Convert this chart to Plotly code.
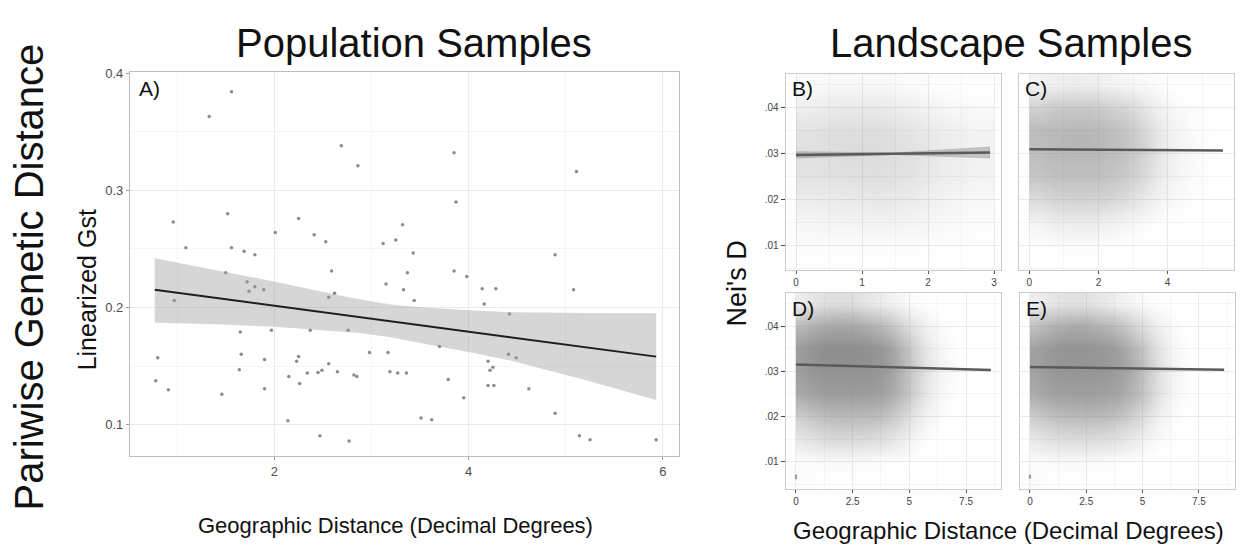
import plotly.graph_objects as go

# ---------------- Panel A data (Population Samples) ----------------
a_x = [1.56, 1.33, 2.69, 2.86, 0.96, 1.52, 2.25, 2.01, 2.41, 2.53, 3.12, 1.09, 1.56, 1.69, 1.80,
       3.85, 5.11, 3.87, 3.32, 3.25, 3.43, 4.89,
       1.50, 1.72, 1.80, 1.74, 1.89, 0.97, 2.59, 2.62, 2.56, 3.15, 1.65, 1.97, 2.37, 2.76,
       0.80, 1.66, 1.90, 2.25, 2.23, 2.56, 2.98, 3.17, 0.78, 0.91, 1.64, 1.46, 1.90, 2.15,
       2.26, 2.34, 2.45, 2.49, 2.65, 2.82, 2.85, 3.19, 2.14, 2.47, 2.77,
       3.37, 3.85, 3.98, 3.33, 3.44, 4.14, 4.28, 4.16, 5.08, 4.42, 3.70, 4.41, 4.49, 4.20,
       4.25, 4.22, 3.27, 3.36, 3.79, 4.20, 4.26, 4.62, 3.95, 4.89, 3.51, 3.62, 5.14, 5.25, 5.93]
a_y = [0.384, 0.363, 0.338, 0.321, 0.273, 0.280, 0.276, 0.264, 0.262, 0.256, 0.2545, 0.251, 0.251, 0.248, 0.245,
       0.332, 0.316, 0.290, 0.2705, 0.2576, 0.2464, 0.245,
       0.2295, 0.222, 0.2177, 0.2137, 0.215, 0.206, 0.231, 0.212, 0.2087, 0.220, 0.179, 0.1806, 0.1806, 0.1806,
       0.157, 0.160, 0.1556, 0.158, 0.154, 0.152, 0.1615, 0.1615, 0.1374, 0.1298, 0.1467, 0.1258, 0.1306, 0.141,
       0.135, 0.144, 0.1444, 0.1463, 0.145, 0.1424, 0.141, 0.145, 0.1033, 0.0904, 0.086,
       0.2295, 0.231, 0.2264, 0.215, 0.206, 0.216, 0.216, 0.203, 0.215, 0.1944, 0.1666, 0.160, 0.157, 0.154,
       0.149, 0.1463, 0.144, 0.144, 0.1385, 0.1334, 0.1334, 0.1306, 0.123, 0.1096, 0.1056, 0.1042, 0.0904, 0.0871, 0.0871]

a_line_x = [0.77, 5.93]
a_line_y = [0.215, 0.158]
a_band_x = [0.77, 1.4, 2.01, 2.6, 2.9, 3.2, 3.54, 4.0, 4.47, 5.2, 5.93]
a_band_hi = [0.242, 0.232, 0.222, 0.2115, 0.2065, 0.2025, 0.2000, 0.1975, 0.1958, 0.1952, 0.195]
a_band_lo = [0.187, 0.1857, 0.1834, 0.1800, 0.1780, 0.1745, 0.169, 0.162, 0.1539, 0.138, 0.121]

# ---------------- Landscape panels: point density (0-10) ----------------
dens_y_edges = [0.0025, 0.0075, 0.0125, 0.0175, 0.0225, 0.0275, 0.0325, 0.0375, 0.0425, 0.0475]

b_dx_edges = [0, 0.5, 1, 1.5, 2, 2.5, 3]
b_dz = [
    [0.1, 0.1, 0, 0, 0, 0],
    [0.3, 0.3, 0.3, 0.3, 0.2, 0.1],
    [0.8, 1.0, 1.1, 1.0, 0.6, 0.3],
    [1.6, 1.8, 2.0, 1.7, 1.0, 0.6],
    [2.3, 2.6, 2.7, 2.3, 1.5, 1.0],
    [2.6, 2.9, 2.9, 2.5, 1.7, 1.1],
    [2.4, 2.8, 2.8, 2.2, 1.4, 0.9],
    [1.4, 1.8, 1.8, 1.3, 0.7, 0.4],
    [0.4, 0.6, 0.6, 0.3, 0.1, 0],
]

c_dx_edges = [0, 0.5, 1, 1.5, 2, 2.5, 3, 3.5, 4, 4.5, 5, 5.5]
c_dz = [
    [0, 0, 0, 0, 0, 0, 0, 0, 0, 0, 0],
    [0.2, 0.3, 0.3, 0.3, 0.2, 0.1, 0.1, 0, 0, 0, 0],
    [1.0, 1.5, 1.6, 1.6, 1.3, 0.9, 0.5, 0.2, 0.1, 0, 0],
    [3.0, 3.5, 3.7, 3.7, 3.4, 2.9, 1.9, 1.0, 0.5, 0.2, 0],
    [4.8, 5.2, 5.3, 5.3, 5.0, 4.5, 3.3, 1.8, 0.9, 0.4, 0.1],
    [5.4, 5.8, 5.9, 5.9, 5.6, 5.1, 3.8, 2.1, 1.0, 0.5, 0.15],
    [5.6, 5.9, 6.0, 6.0, 5.6, 5.0, 3.6, 1.9, 0.9, 0.4, 0.1],
    [3.8, 4.3, 4.5, 4.5, 4.0, 3.4, 2.3, 1.2, 0.5, 0.2, 0],
    [1.0, 1.3, 1.5, 1.4, 1.1, 0.8, 0.5, 0.2, 0, 0, 0],
]

de_dx_edges = [0, 0.5, 1, 1.5, 2, 2.5, 3, 3.5, 4, 4.5, 5, 5.5, 6, 6.5, 7, 7.5, 8, 8.5]
d_dz = [
    [0.3, 0.1, 0, 0, 0, 0, 0, 0, 0, 0, 0, 0, 0, 0, 0, 0, 0],
    [0.3, 0.4, 0.5, 0.5, 0.5, 0.5, 0.4, 0.3, 0.2, 0.1, 0, 0, 0, 0, 0, 0, 0],
    [2.0, 2.5, 3.0, 3.2, 3.2, 3.2, 3.0, 2.7, 2.2, 1.5, 0.8, 0.3, 0.1, 0, 0, 0, 0],
    [4.2, 5.0, 5.5, 5.8, 5.8, 5.8, 5.7, 5.3, 4.5, 3.4, 2.0, 1.0, 0.4, 0.15, 0, 0, 0],
    [7.2, 7.8, 8.2, 8.2, 8.2, 8.2, 8.1, 7.8, 7.0, 5.6, 3.6, 1.9, 0.9, 0.4, 0.1, 0, 0],
    [8.2, 8.8, 9.1, 9.1, 9.1, 9.1, 9.0, 8.6, 7.7, 6.0, 4.0, 2.2, 1.1, 0.5, 0.15, 0, 0],
    [8.3, 9.0, 9.4, 9.5, 9.5, 9.4, 9.2, 8.6, 7.6, 5.8, 3.7, 2.0, 1.0, 0.4, 0.1, 0, 0],
    [5.8, 6.6, 7.1, 7.4, 7.4, 7.1, 6.6, 5.9, 4.8, 3.5, 2.2, 1.1, 0.5, 0.2, 0, 0, 0],
    [1.6, 2.2, 2.6, 2.8, 2.8, 2.5, 2.1, 1.6, 1.1, 0.6, 0.3, 0.1, 0, 0, 0, 0, 0],
]
e_dz = [
    [0.3, 0.1, 0, 0, 0, 0, 0, 0, 0, 0, 0, 0, 0, 0, 0, 0, 0],
    [0.3, 0.4, 0.5, 0.5, 0.5, 0.5, 0.4, 0.3, 0.2, 0.1, 0.05, 0, 0, 0, 0, 0, 0],
    [2.0, 2.5, 2.8, 3.0, 3.0, 3.0, 2.9, 2.6, 2.1, 1.5, 0.9, 0.4, 0.15, 0.05, 0, 0, 0],
    [4.2, 5.0, 5.5, 5.8, 5.8, 5.8, 5.7, 5.3, 4.6, 3.6, 2.3, 1.2, 0.6, 0.2, 0.1, 0, 0],
    [7.0, 7.6, 8.0, 8.0, 8.0, 8.0, 7.9, 7.6, 6.9, 5.7, 4.0, 2.3, 1.1, 0.45, 0.15, 0, 0],
    [7.8, 8.4, 8.7, 8.8, 8.8, 8.8, 8.7, 8.3, 7.6, 6.2, 4.3, 2.5, 1.2, 0.5, 0.15, 0, 0],
    [7.8, 8.4, 8.8, 9.0, 9.0, 8.8, 8.6, 8.1, 7.2, 5.8, 3.9, 2.2, 1.0, 0.4, 0.1, 0, 0],
    [5.3, 6.1, 6.6, 7.0, 7.0, 6.7, 6.2, 5.6, 4.6, 3.4, 2.2, 1.2, 0.6, 0.2, 0.05, 0, 0],
    [1.4, 1.9, 2.3, 2.5, 2.5, 2.3, 1.9, 1.5, 1.0, 0.6, 0.3, 0.1, 0, 0, 0, 0, 0],
]

# regression lines / bands of the landscape panels
b_line_x = [0, 1.5, 2.94]
b_line_y = [0.0297, 0.02995, 0.0302]
b_band_hi = [0.0305, 0.0302, 0.0315]
b_band_lo = [0.0289, 0.0297, 0.0289]
c_line_x = [0, 5.6]
c_line_y = [0.03094, 0.03064]
d_line_x = [0, 8.59]
d_line_y = [0.03153, 0.03028]
e_line_x = [0, 8.62]
e_line_y = [0.03094, 0.03037]

de_zero_x = [0, 0]
d_zero_y = [0.0064, 0.0069]
e_zero_y = [0.0065, 0.0069]

W, H = 1243, 550
FONT = "Liberation Sans"


def px(v):
    return v / W


def py(v):
    return 1 - v / H


fig = go.Figure()

# Panel A
fig.add_trace(go.Scatter(x=a_x, y=a_y, mode="markers",
                         marker=dict(size=3.5, color="#8c8c8c"), xaxis="x", yaxis="y",
                         hoverinfo="skip"))
fig.add_trace(go.Scatter(x=a_band_x + a_band_x[::-1], y=a_band_hi + a_band_lo[::-1],
                         fill="toself", fillcolor="rgba(153,153,153,0.4)", line=dict(width=0),
                         mode="lines", xaxis="x", yaxis="y", hoverinfo="skip"))
fig.add_trace(go.Scatter(x=a_line_x, y=a_line_y, mode="lines",
                         line=dict(color="#1e1e1e", width=2), xaxis="x", yaxis="y"))

cscale = [[0, "rgba(135,135,135,0)"], [1, "rgba(135,135,135,1)"]]
panels = [
    ("x2", "y2", b_dx_edges, b_dz),
    ("x3", "y3", c_dx_edges, c_dz),
    ("x4", "y4", de_dx_edges, d_dz),
    ("x5", "y5", de_dx_edges, e_dz),
]
for xa, ya, dx, dz in panels:
    fig.add_trace(go.Heatmap(x=dx, y=dens_y_edges, z=dz, zmin=0, zmax=10, colorscale=cscale,
                             zsmooth="best", showscale=False, xaxis=xa, yaxis=ya,
                             hoverinfo="skip"))

fig.add_trace(go.Scatter(x=b_line_x + b_line_x[::-1], y=b_band_hi + b_band_lo[::-1],
                         fill="toself", fillcolor="rgba(120,120,120,0.4)", line=dict(width=0),
                         mode="lines", xaxis="x2", yaxis="y2", hoverinfo="skip"))
for xa, ya, lx, ly in [("x2", "y2", b_line_x, b_line_y), ("x3", "y3", c_line_x, c_line_y),
                       ("x4", "y4", d_line_x, d_line_y), ("x5", "y5", e_line_x, e_line_y)]:
    fig.add_trace(go.Scatter(x=lx, y=ly, mode="lines", line=dict(color="#5a5a5a", width=2.5),
                             xaxis=xa, yaxis=ya, hoverinfo="skip"))
fig.add_trace(go.Scatter(x=de_zero_x, y=d_zero_y, mode="markers", marker=dict(size=2.5, color="#999"),
                         xaxis="x4", yaxis="y4", hoverinfo="skip"))
fig.add_trace(go.Scatter(x=de_zero_x, y=e_zero_y, mode="markers", marker=dict(size=2.5, color="#999"),
                         xaxis="x5", yaxis="y5", hoverinfo="skip"))

grid_major = "#ebebeb"
grid_minor = "#f5f5f5"
border = "#bdbdbd"


def axis_common(**kw):
    d = dict(showline=True, mirror=True, linecolor=border, linewidth=1.2,
             showgrid=True, gridcolor=grid_major, gridwidth=1, zeroline=False,
             ticks="outside", ticklen=3, tickcolor="#9a9a9a",
             tickfont=dict(family=FONT, size=13, color="#4d4d4d"))
    d.update(kw)
    return d


layout = dict(
    width=W, height=H, margin=dict(l=0, r=0, t=0, b=0),
    paper_bgcolor="white", plot_bgcolor="white", showlegend=False,
    xaxis=axis_common(domain=[px(130), px(679)], range=[0.515, 6.165], anchor="y",
                      tickvals=[2, 4, 6], minor=dict(dtick=1, tick0=1, showgrid=True, gridcolor=grid_minor)),
    yaxis=axis_common(domain=[py(455), py(66)], range=[0.073, 0.4008], anchor="x",
                      tickvals=[0.1, 0.2, 0.3, 0.4], ticktext=["0.1", "0.2", "0.3", "0.4"],
                      minor=dict(dtick=0.05, tick0=0.05, showgrid=True, gridcolor=grid_minor)),
)

small = dict(family=FONT, size=10, color="#444444")
ytv = [0.01, 0.02, 0.03, 0.04]
ytt = [".01", ".02", ".03", ".04"]
specs = [
    (2, [785.7, 1001], [266.7, 67.7], [-0.156, 3.106], [0.00465, 0.0473], [0, 1, 2, 3], None, True),
    (3, [1019, 1234], [266.7, 67.7], [-0.30, 5.92], [0.00465, 0.0473], [0, 2, 4], None, False),
    (4, [785.7, 1001], [488.3, 289.3], [-0.45, 9.04], [0.00396, 0.0474], [0, 2.5, 5, 7.5], ["0", "2.5", "5", "7.5"], True),
    (5, [1020, 1235], [488.3, 289.3], [-0.44, 9.1], [0.00396, 0.0474], [0, 2.5, 5, 7.5], ["0", "2.5", "5", "7.5"], False),
]
for n, xd, yd, xr, yr, xt, xtt, showy in specs:
    xk = dict(domain=[px(xd[0]), px(xd[1])], range=xr, anchor="y%d" % n, tickvals=xt,
              ticklen=3, tickcolor="#555", tickfont=small, linecolor="#cccccc",
              minor=dict(dtick=(xt[1] - xt[0]) / 2, tick0=0, showgrid=True, gridcolor=grid_minor))
    if xtt:
        xk["ticktext"] = xtt
    yk = dict(domain=[py(yd[0]), py(yd[1])], range=yr, anchor="x%d" % n, tickvals=ytv,
              ticktext=ytt, showticklabels=showy, ticks="outside" if showy else "",
              ticklen=4, tickcolor="#444", tickfont=small, linecolor="#cccccc",
              minor=dict(dtick=0.005, tick0=0.005, showgrid=True, gridcolor=grid_minor))
    layout["xaxis%d" % n] = axis_common(**xk)
    layout["yaxis%d" % n] = axis_common(**yk)

fig.update_layout(**layout)


def ann(text, x, y, size, angle=0, xanchor="center", yanchor="middle", color="#111111"):
    fig.add_annotation(text=text, x=px(x), y=py(y), xref="paper", yref="paper",
                       showarrow=False, textangle=angle, xanchor=xanchor, yanchor=yanchor,
                       font=dict(family=FONT, size=size, color=color))


ann("Population Samples", 414, 36, 40)
ann("Landscape Samples", 1011, 36, 40)
ann("Pariwise Genetic Distance", 29, 274, 40, angle=-90)
ann("Linearized Gst", 87, 287, 25, angle=-90)
ann("Nei's D", 737, 280, 27, angle=-90)
ann("Geographic Distance (Decimal Degrees)", 395, 525, 22)
ann("Geographic Distance (Decimal Degrees)", 1008, 530, 24)
ann("A)", 137, 83, 21, xanchor="left")
ann("B)", 790, 83, 21, xanchor="left")
ann("C)", 1023, 83, 21, xanchor="left")
ann("D)", 790, 305, 21, xanchor="left")
ann("E)", 1024, 305, 21, xanchor="left")

fig.write_html("out.html")
